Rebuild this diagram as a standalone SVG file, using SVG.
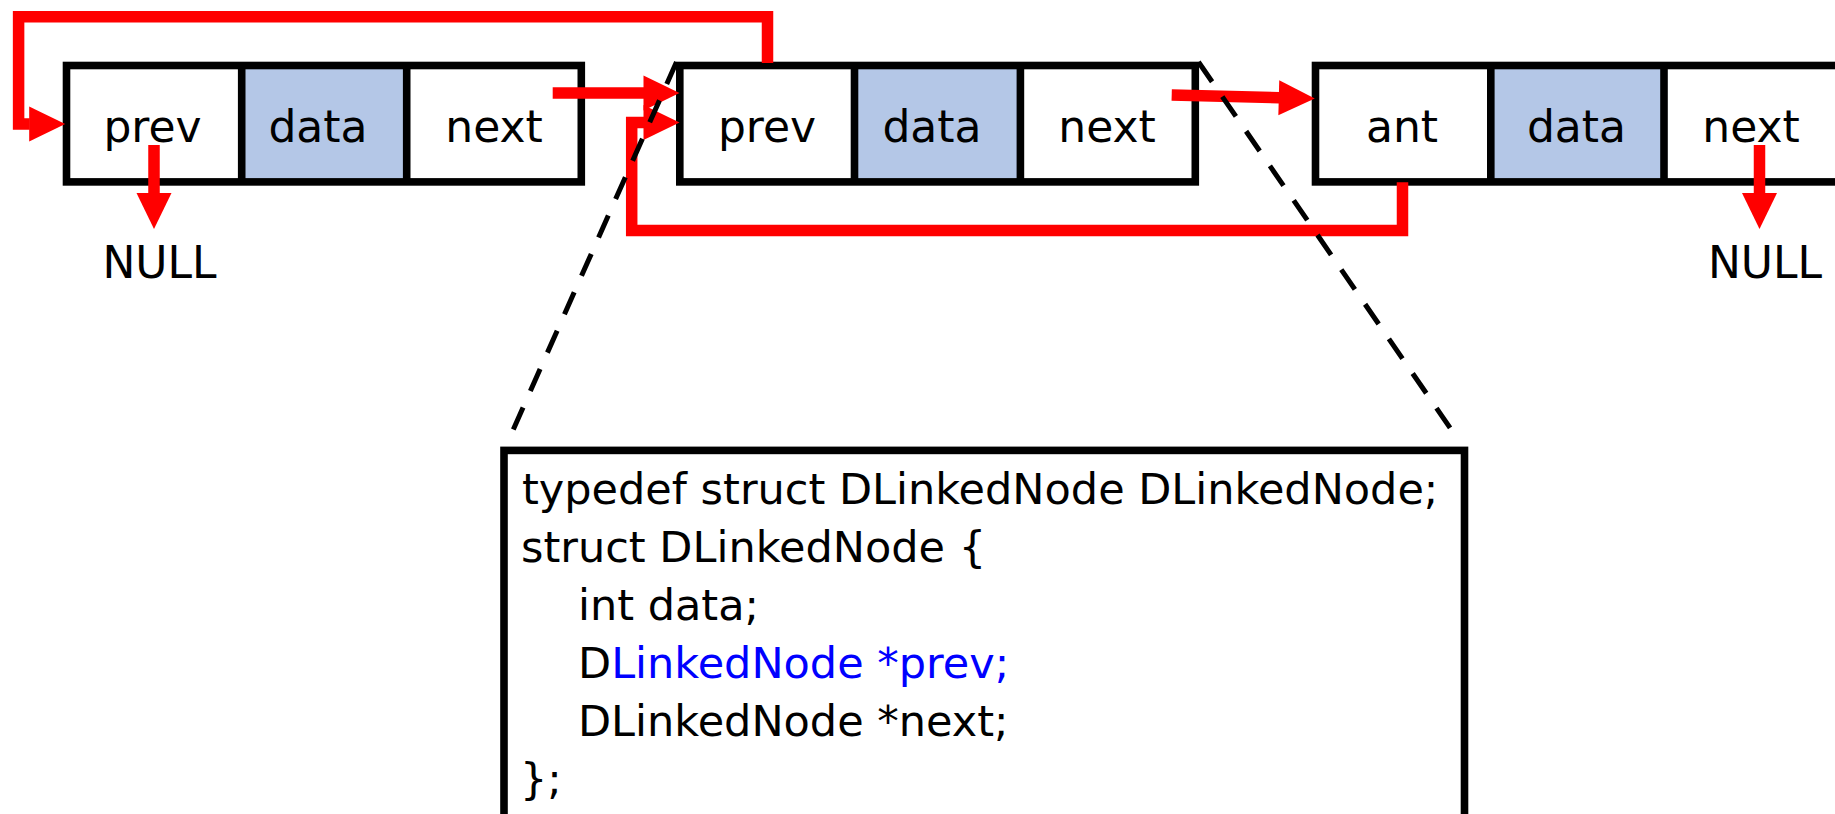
<svg xmlns="http://www.w3.org/2000/svg" width="1835" height="814" viewBox="0 0 1835 814">
  <style>
    .bg{fill:#ffffff}
    .cell{fill:#ffffff;stroke:none}
    .datafill{fill:#B4C7E7;stroke:none}
    .outline{fill:none;stroke:#000000;stroke-width:7.6}
    .lbl{font-family:"DejaVu Sans",Verdana,sans-serif;font-size:44px;text-anchor:middle;fill:#000000}
    .code{font-family:"DejaVu Sans",Verdana,sans-serif;font-size:43px;fill:#000000}
    .hl{fill:#0000FF}
    .ptr{fill:none;stroke:#FF0000;stroke-width:11.5;stroke-linejoin:miter;stroke-linecap:butt}
    .zoom{fill:none;stroke:#000000;stroke-width:5;stroke-dasharray:24 18}
  </style>
  <defs>
    <marker id="head" markerUnits="userSpaceOnUse" markerWidth="40" markerHeight="40" refX="0.5" refY="17.5" orient="auto" overflow="visible">
      <path d="M0,0 L36,17.5 L0,35 Z" fill="#FF0000"/>
    </marker>
  </defs>

  <rect class="bg" x="0" y="0" width="1835" height="814"/>

  <!-- first list node -->
  <g id="node-1">
    <rect class="cell" x="66.5" y="65.5" width="514.8" height="116.4"/>
    <rect class="datafill" x="241.7" y="65.5" width="165" height="116.4"/>
    <rect class="outline" x="66.5" y="65.5" width="514.8" height="116.4"/>
    <line class="outline" x1="241.7" y1="65.5" x2="241.7" y2="181.9"/>
    <line class="outline" x1="406.7" y1="65.5" x2="406.7" y2="181.9"/>
    <text class="lbl" x="152.5" y="142.3">prev</text>
    <text class="lbl" x="318" y="142.3">data</text>
    <text class="lbl" x="494" y="142.3">next</text>
  </g>

  <!-- second list node -->
  <g id="node-2">
    <rect class="cell" x="679.8" y="65.5" width="515.5" height="116.4"/>
    <rect class="datafill" x="854.5" y="65.5" width="165.9" height="116.4"/>
    <rect class="outline" x="679.8" y="65.5" width="515.5" height="116.4"/>
    <line class="outline" x1="854.5" y1="65.5" x2="854.5" y2="181.9"/>
    <line class="outline" x1="1020.4" y1="65.5" x2="1020.4" y2="181.9"/>
    <text class="lbl" x="767" y="142.3">prev</text>
    <text class="lbl" x="932" y="142.3">data</text>
    <text class="lbl" x="1107" y="142.3">next</text>
  </g>

  <!-- third list node (runs off the right edge) -->
  <g id="node-3">
    <rect class="cell" x="1315.5" y="65.5" width="600" height="116.4"/>
    <rect class="datafill" x="1490.8" y="65.5" width="173.2" height="116.4"/>
    <rect class="outline" x="1315.5" y="65.5" width="600" height="116.4"/>
    <line class="outline" x1="1490.8" y1="65.5" x2="1490.8" y2="181.9"/>
    <line class="outline" x1="1664" y1="65.5" x2="1664" y2="181.9"/>
    <text class="lbl" x="1402" y="142.3">ant</text>
    <text class="lbl" x="1576.5" y="142.3">data</text>
    <text class="lbl" x="1751" y="142.3">next</text>
  </g>

  <g id="null-left">
    <text class="lbl" x="159.5" y="278.3">NULL</text>
  </g>
  <g id="null-right">
    <text class="lbl" x="1765" y="278.3">NULL</text>
  </g>

  <!-- struct definition of one node -->
  <g id="struct-def">
    <rect class="outline" x="504" y="450.4" width="960.5" height="420" fill="#ffffff"/>
    <text class="code" x="522" y="504">typedef struct DLinkedNode DLinkedNode;</text>
    <text class="code" x="521" y="562">struct DLinkedNode {</text>
    <text class="code" x="578" y="620">int data;</text>
    <text class="code" x="578" y="678">D<tspan class="hl">LinkedNode *prev;</tspan></text>
    <text class="code" x="578" y="736">DLinkedNode *next;</text>
    <text class="code" x="520" y="794">};</text>
  </g>

  <!-- pointer links and magnifier lines -->
  <g id="connectors">
    <path class="ptr" d="M767.5,63 V16.7 H18.6 V124 H29.7" marker-end="url(#head)"/>
    <path class="ptr" d="M552.7,93 H644" marker-end="url(#head)"/>
    <path class="ptr" d="M1402.5,182.3 V230.5 H631.7 V122.5 H644" marker-end="url(#head)"/>
    <path class="ptr" d="M1171.7,95 L1279.3,97.7" marker-end="url(#head)"/>
    <path class="ptr" d="M154,145 V193.5" marker-end="url(#head)"/>
    <path class="ptr" d="M1759.5,145 V193.5" marker-end="url(#head)"/>
    <line class="zoom" x1="676.5" y1="62" x2="511.5" y2="433.5"/>
    <line class="zoom" x1="1198.5" y1="62" x2="1455" y2="435"/>
  </g>
</svg>
